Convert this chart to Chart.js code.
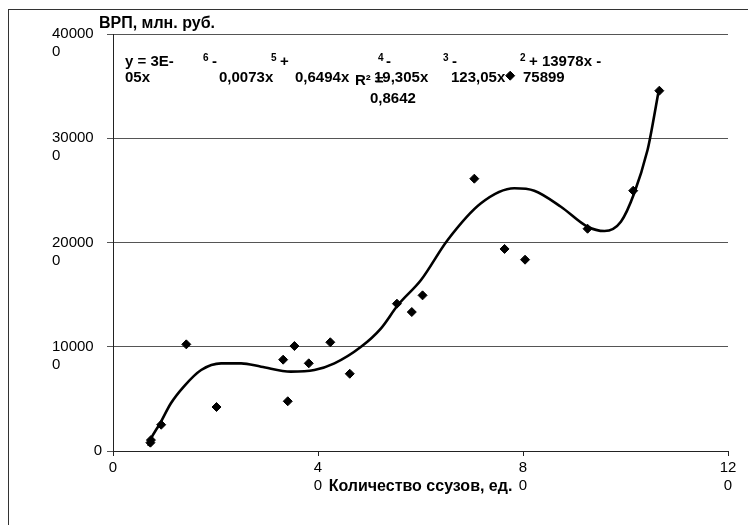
<!DOCTYPE html>
<html><head><meta charset="utf-8">
<script src="https://cdn.jsdelivr.net/npm/chart.js@4.4.0/dist/chart.umd.min.js"></script>
<style>
html,body{margin:0;padding:0;background:#fff;}
#wrap{position:relative;width:748px;height:525px;overflow:hidden;}
#frame{position:absolute;left:8px;top:9px;width:800px;height:600px;border-left:1px solid #333;border-top:1px solid #333;}
canvas{position:absolute;left:0;top:0;}
</style></head><body>
<div id="wrap"><div id="frame"></div><canvas id="c" width="748" height="525"></canvas></div>
<script>
// ---- data ----
const xTicks = [0, 40, 80, 120];
const yTicks = [0, 100000, 200000, 300000, 400000];
const ssuzCount = [7.3, 7.4, 9.4, 14.3, 20.2, 33.2, 34.1, 35.4, 38.2, 42.4, 46.2, 55.4, 58.3, 60.4, 70.5, 76.4, 77.5, 80.4, 92.6, 101.5, 106.6];
const grpValues = [8000, 10500, 25200, 102300, 42200, 87600, 47700, 100700, 84100, 104300, 74100, 141300, 133300, 149300, 261200, 193800, 360000, 183500, 213200, 249700, 345600];
const trendX = [6.9, 7.3, 9.2, 11.3, 13.9, 17.2, 21.1, 25.0, 28.9, 34.7, 39.3, 43.2, 48.4, 52.3, 55.6, 60.1, 65.3, 71.8, 78.3, 82.2, 87.4, 92.6, 95.9, 99.1, 101.7, 104.3, 104.8, 106.5];
const trendY = [4800, 10500, 26600, 45800, 62300, 77700, 84100, 84100, 80900, 76100, 77700, 84100, 100000, 117700, 140000, 164000, 202400, 237600, 252000, 249700, 234300, 215100, 211000, 219900, 247200, 288700, 300200, 346300];
const yAxisTitle = 'ВРП, млн. руб.';
const xAxisTitle = 'Количество ссузов, ед.';
const equationTokens = ['y = 3E-', '05x', '6', '-', '0,0073x', '5', '+', '0,6494x', '4', '-', '19,305x', '3', '-', '123,05x', '2', '+ 13978x -', '75899'];
const r2Tokens = ['R² =', '0,8642'];

const FONT = "'Liberation Sans', Arial, sans-serif";

function wrapLabel(v, isY) {
  const s = String(v);
  if (v === 0) return isY ? ['          0', ''] : '0';
  return isY ? [s.slice(0, 5), s.slice(5)] : [s.slice(0, s.length - 1), s.slice(s.length - 1)];
}

const overlay = {
  id: 'overlay',
  afterDraw(chart) {
    const ctx = chart.ctx, a = chart.chartArea;
    ctx.save();
    ctx.fillStyle = '#000';
    ctx.textBaseline = 'middle';
    ctx.textAlign = 'left';
    ctx.font = 'bold 16px ' + FONT;
    ctx.fillText(yAxisTitle, a.left - 14, a.top - 10);
    const r1 = a.top + 28, r2 = a.top + 44, r3 = a.top + 65, sup = a.top + 24;
    // [token index, dx, y, superscript]
    const layout = [
      [0, 12, r1, 0], [1, 12, r2, 0],
      [2, 90, sup, 1], [3, 99, r1, 0], [4, 106, r2, 0],
      [5, 158, sup, 1], [6, 167, r1, 0], [7, 182, r2, 0],
      [8, 265, sup, 1], [9, 273, r1, 0], [10, 261, r2, 0],
      [11, 330, sup, 1], [12, 339, r1, 0], [13, 338, r2, 0],
      [14, 407, sup, 1], [15, 416, r1, 0], [16, 410, r2, 0]
    ];
    layout.forEach(([i, dx, y, s]) => {
      ctx.font = (s ? 'bold 10px ' : 'bold 15px ') + FONT;
      ctx.fillText(equationTokens[i], a.left + dx, y);
    });
    ctx.font = 'bold 15px ' + FONT;
    ctx.fillText(r2Tokens[0], a.left + 242, r2 + 3);
    ctx.fillText(r2Tokens[1], a.left + 257, r3);
    ctx.restore();
  }
};

new Chart(document.getElementById('c'), {
  type: 'scatter',
  data: {
    datasets: [
      {
        type: 'line',
        label: 'trend',
        data: trendX.map((x, i) => ({x, y: trendY[i]})),
        borderColor: '#000',
        borderWidth: 2.6,
        pointRadius: 0,
        fill: false,
        cubicInterpolationMode: 'monotone',
        order: 2
      },
      {
        label: 'ВРП',
        data: ssuzCount.map((x, i) => ({x, y: grpValues[i]})),
        pointStyle: 'rectRot',
        pointRadius: 4.5,
        backgroundColor: '#000',
        borderColor: '#000',
        borderWidth: 1,
        order: 1
      }
    ]
  },
  options: {
    responsive: false,
    animation: false,
    layout: {padding: {left: 52, right: 20, top: 34, bottom: 0}},
    plugins: {legend: {display: false}, tooltip: {enabled: false}, title: {display: false}},
    scales: {
      x: {
        type: 'linear', min: 0, max: 120,
        afterBuildTicks: s => { s.ticks = xTicks.map(v => ({value: v})); },
        afterFit: s => { s.height = 74; },
        grid: {display: true, drawOnChartArea: false, drawTicks: true, tickLength: 5, color: '#222'},
        border: {display: true, color: '#222', width: 1},
        ticks: {color: '#000', font: {family: FONT, size: 15}, padding: 3, maxRotation: 0, autoSkip: false,
                callback: v => wrapLabel(v, false)},
        title: {display: true, text: xAxisTitle, color: '#000', font: {family: FONT, size: 16, weight: 'bold'},
                padding: {top: 0, bottom: 29}}
      },
      y: {
        type: 'linear', min: 0, max: 400000,
        afterBuildTicks: s => { s.ticks = yTicks.map(v => ({value: v})); },
        afterFit: s => { s.width = 61; },
        grid: {display: true, drawOnChartArea: true, drawTicks: true, tickLength: 6, color: '#555'},
        border: {display: true, color: '#222', width: 1},
        ticks: {color: '#000', font: {family: FONT, size: 15}, crossAlign: 'far', labelOffset: 9, autoSkip: false,
                callback: v => wrapLabel(v, true)}
      }
    }
  },
  plugins: [overlay]
});
</script>
</body></html>
